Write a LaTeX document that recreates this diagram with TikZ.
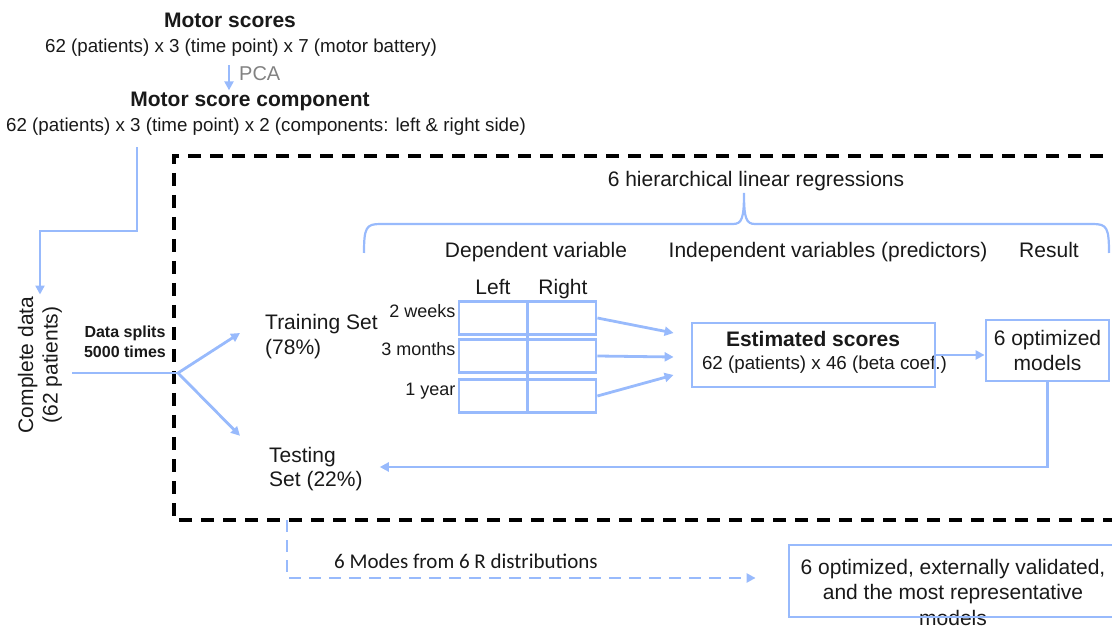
\documentclass[tikz,border=0pt]{standalone}
\usepackage{fontspec}
\setmainfont{Liberation Sans}
\newfontfamily\modesfont{Carlito}
\usepackage{xcolor}
\usetikzlibrary{arrows.meta}

\definecolor{lineblue}{RGB}{152,186,252}
\definecolor{ink}{RGB}{25,25,25}
\definecolor{pcagray}{RGB}{130,130,130}

\tikzset{
    txt/.style={inner sep=0pt, text=ink, font=\fontsize{18.75}{22}\selectfont},
    bigtxt/.style={txt, font=\fontsize{21}{24.5}\selectfont},
    headtxt/.style={txt, font=\fontsize{21}{25}\selectfont\bfseries},
    bluebox/.style={draw=lineblue, line width=2.8pt, inner sep=0pt},
    blueline/.style={draw=lineblue, line width=2.8pt},
    bluearrow/.style={blueline, -{Triangle[length=9pt,width=9pt]}},
    bluedash/.style={bluearrow, dash pattern=on 12pt off 8pt},
    dashframe/.style={draw=black, line width=4pt, dash pattern=on 13pt off 9pt},
}

\begin{document}
\begin{tikzpicture}[x=1pt, y=-1pt]
    \useasboundingbox (0,0) rectangle (1112,628);
    \clip (0,0) rectangle (1112,628);

    % Motor scores and PCA step
    \node[headtxt, anchor=base] (ms) at (230,28) {Motor scores};
    \node[txt, anchor=base] (msdim) at (241,53) {62 (patients) x 3 (time point) x 7 (motor battery)};
    \node[txt, anchor=base west, text=pcagray, font=\fontsize{20}{24}\selectfont] (pca) at (239,81) {PCA};
    \node[headtxt, anchor=base] (msc) at (250,107) {Motor score component};
    \node[txt, anchor=base] (mscdim) at (266,132) {62 (patients) x 3 (time point) x 2 (components: left \& right side)};
    \coordinate (pcax) at ([xshift=-10pt]pca.west);
    \draw[bluearrow, shorten <=8pt, shorten >=2pt] (msdim.south -| pcax) -- (msc.north -| pcax);

    % Complete data and the split
    \node[bigtxt, rotate=90, align=center] (cd) at (40,365) {Complete data\\(62 patients)};
    \coordinate (drop) at (137,231);
    \draw[bluearrow, shorten <=11pt, shorten >=2pt] (mscdim.south -| drop) -- (drop) -| (cd.east);
    \node[txt, align=center, font=\fontsize{16}{20}\selectfont\bfseries] (splits) at (125,342) {Data splits\\5000 times};

    % Dashed frame
    \draw[dashframe] (1125,156) -| (174,520) -- (1125,520);

    \coordinate (split) at (178,373);
    \draw[blueline, shorten <=10pt] (cd.south |- split) -- (split);
    \node[bigtxt, anchor=west, align=left] (train) at (265,336.5) {Training Set\\(78\%)};
    \node[bigtxt, anchor=west, align=left] (test) at (269,469) {Testing\\Set (22\%)};
    \draw[bluearrow] (split) -- ([shift={(-25,-3.5)}]train.west);
    \draw[bluearrow] (split) -- ([shift={(-29,-11)}]test.north west);

    % Regressions heading and brace
    \node[bigtxt, anchor=base] (hlr) at (756,187) {6 hierarchical linear regressions};
    \draw[blueline, line width=2.2pt] (364,253) .. controls (364,228) and (366,224) .. (380,224)
        -- (733,224) .. controls (742,224) and (744,218) .. (744,193)
        .. controls (744,218) and (746,224) .. (755,224)
        -- (1093,224) .. controls (1107,224) and (1109,228) .. (1109,253);
    \node[bigtxt, anchor=base] (dep) at (536,258) {Dependent variable};
    \node[bigtxt, anchor=base] (indep) at (828,258) {Independent variables (predictors)};
    \node[bigtxt, anchor=base] (res) at (1049,258) {Result};

    % Left / Right grid, one row per time point
    \foreach \y/\row/\when in {318/r1/2 weeks, 356/r2/3 months, 396/r3/1 year} {
        \node[bluebox, minimum width=137pt, minimum height=33pt] (\row) at (527.5,\y) {};
        \node[txt, anchor=base east, font=\fontsize{18}{21}\selectfont] (lab\row) at ([xshift=-2pt]\row.west) {\when};
    }
    \draw[blueline] (r1.north) -- (r3.south);
    \node[bigtxt, anchor=base] (colL) at (493,295) {Left};
    \node[bigtxt, anchor=base] (colR) at (563,295) {Right};

    % Estimated scores and models
    \node[headtxt, anchor=base] (esttitle) at (813,347) {Estimated scores};
    \node[txt, anchor=base] (estdim) at (824.5,370) {62 (patients) x 46 (beta coef.)};
    \node[bluebox, minimum width=243pt, minimum height=64pt] (est) at (813.5,355) {};
    \draw[bluearrow] (r1.east) -- ([shift={(-17,-22)}]est.west);
    \draw[bluearrow] (r2.east) -- ([shift={(-17,2)}]est.west);
    \draw[bluearrow] (r3.east) -- ([shift={(-17,20)}]est.west);

    \node[bluebox, bigtxt, align=center, minimum width=123pt, minimum height=61pt,
          font=\fontsize{21}{25}\selectfont] (opt) at (1047.5,350.5) {6 optimized\\models};
    \draw[bluearrow] (est.east) -- (est.east -| opt.west);
    \draw[bluearrow] (opt.south) |- ([shift={(17,-2)}]test.east);

    % External validation
    \coordinate (exit) at (287,520);
    \node[bigtxt, align=center, font=\fontsize{21}{25.5}\selectfont] (finaltxt) at (953,592)
        {6 optimized, externally validated,\\and the most representative\\models};
    \node[bluebox, minimum width=328pt, minimum height=72pt] (final) at (953,581) {};
    \draw[bluedash] (exit) |- ([shift={(-32,-3)}]final.west);
    \node[txt, anchor=base west, font=\modesfont\fontsize{21}{25}\selectfont] (modes) at (334,568) {6 Modes from 6 R distributions};
\end{tikzpicture}
\end{document}
